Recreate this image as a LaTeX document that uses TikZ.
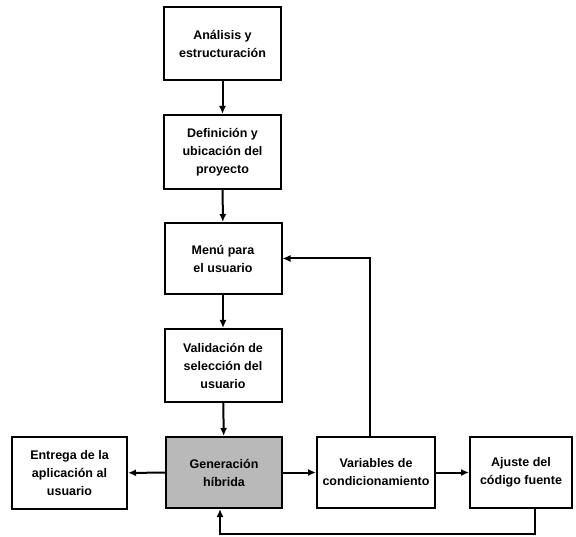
\documentclass[tikz,border=0pt]{standalone}
\usepackage{fontspec}
\setmainfont{Liberation Sans}
\usetikzlibrary{arrows.meta}
\begin{document}
\begin{tikzpicture}[x=1pt,y=-1pt,
  boxst/.style={draw=black, line width=2pt, fill=white, minimum width=117pt, minimum height=73pt,
    align=center, inner sep=1pt, font=\bfseries\fontsize{12.5}{18}\selectfont},
  genst/.style={boxst, fill=gray!55},
  arr/.style={line width=2pt, -{Latex[length=8pt,width=7pt]}}]
\useasboundingbox (0,0) rectangle (576,537);
\node[boxst] (a1) at (222.5,44) {Análisis y\\estructuración};
\node[boxst, minimum height=74pt] (a2) at (222.5,152) {Definición y\\ubicación del\\proyecto};
\node[boxst, minimum height=71pt] (a3) at (223,258.5) {Menú para\\el usuario};
\node[boxst] (a4) at (223,365.5) {Validación de\\selección del\\usuario};
\node[genst, minimum width=116pt, minimum height=71pt] (gen) at (224,472.5) {Generación\\híbrida};
\node[boxst, minimum width=115pt, minimum height=72pt] (ent) at (69.5,473) {Entrega de la\\aplicación al\\usuario};
\node[boxst, minimum width=118pt, minimum height=71pt, inner sep=0pt] (var) at (376,472.5) {Variables de\\condicionamiento};
\node[boxst, minimum width=102pt, minimum height=71pt] (aju) at (521,472.5) {Ajuste del\\código fuente};
\draw[arr] (a1) -- (a2);
\draw[arr] (a2) -- (a3);
\draw[arr] (a3) -- (a4);
\draw[arr] (a4) -- (gen);
\draw[arr] (gen) -- (ent);
\draw[arr] (gen) -- (var);
\draw[arr] (var) -- (aju);
\draw[arr] ([xshift=-6pt]var.north) |- (a3.east);
\coordinate (lowr) at ([xshift=14pt]aju.south |- 0,534);
\draw[arr] ([xshift=14pt]aju.south) -- (lowr) -| ([xshift=-4pt]gen.south);
\end{tikzpicture}
\end{document}
